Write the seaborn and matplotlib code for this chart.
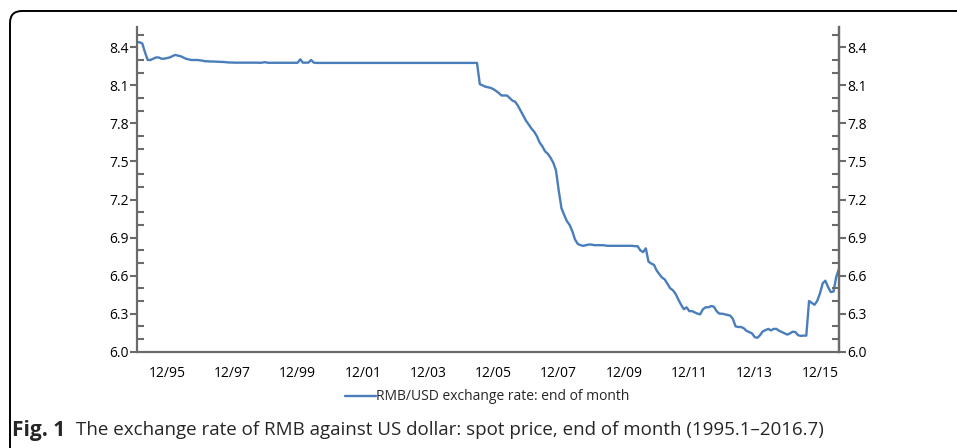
import matplotlib
matplotlib.use("Agg")
import matplotlib.pyplot as plt
from matplotlib.patches import FancyBboxPatch
from matplotlib.ticker import MultipleLocator
import seaborn as sns
import pandas as pd

# end-of-month RMB/USD spot rate, 1995.1 - 2016.7
rate_1995_1999 = [
    8.44, 8.44, 8.43, 8.36, 8.30, 8.30, 8.31, 8.32, 8.32, 8.31, 8.31, 8.315,
    8.32, 8.33, 8.34, 8.335, 8.33, 8.32, 8.31, 8.305, 8.30, 8.30, 8.30, 8.298,
    8.295, 8.29, 8.29, 8.288, 8.288, 8.287, 8.286, 8.285, 8.284, 8.282, 8.280, 8.280,
    8.279, 8.279, 8.279, 8.279, 8.279, 8.279, 8.279, 8.279, 8.279, 8.278, 8.279, 8.283,
    8.278, 8.278, 8.278, 8.278, 8.278, 8.278, 8.278, 8.278, 8.278, 8.278, 8.278, 8.278,
]
rate_2000_2004 = [
    8.305, 8.279, 8.279, 8.279, 8.30, 8.279, 8.277, 8.277, 8.277, 8.277, 8.277, 8.277,
] + [8.277] * 48
rate_2005_2009 = [
    8.277, 8.277, 8.277, 8.277, 8.277, 8.277, 8.11, 8.10, 8.09, 8.085, 8.08, 8.07,
    8.055, 8.04, 8.02, 8.02, 8.02, 8.00, 7.98, 7.97, 7.94, 7.90, 7.86, 7.82,
    7.79, 7.76, 7.735, 7.70, 7.65, 7.62, 7.58, 7.56, 7.53, 7.49, 7.43, 7.27,
    7.13, 7.08, 7.03, 7.00, 6.95, 6.885, 6.85, 6.84, 6.835, 6.84, 6.845, 6.845,
    6.84, 6.84, 6.84, 6.84, 6.838, 6.835, 6.835, 6.835, 6.835, 6.835, 6.835, 6.835,
]
rate_2010_2016 = [
    6.835, 6.835, 6.835, 6.832, 6.832, 6.80, 6.785, 6.815, 6.71, 6.695, 6.685, 6.64,
    6.61, 6.585, 6.57, 6.535, 6.50, 6.485, 6.455, 6.41, 6.37, 6.335, 6.35, 6.32,
    6.32, 6.31, 6.30, 6.295, 6.335, 6.35, 6.35, 6.36, 6.355, 6.32, 6.30, 6.30,
    6.295, 6.29, 6.285, 6.26, 6.20, 6.195, 6.195, 6.185, 6.165, 6.155, 6.145, 6.115,
    6.11, 6.13, 6.16, 6.17, 6.18, 6.168, 6.18, 6.18, 6.165, 6.155, 6.145, 6.135,
    6.145, 6.158, 6.155, 6.13, 6.125, 6.127, 6.127, 6.40, 6.385, 6.37, 6.40, 6.46,
    6.54, 6.56, 6.51, 6.47, 6.475, 6.59, 6.655,
]

rates = rate_1995_1999 + rate_2000_2004 + rate_2005_2009 + rate_2010_2016
months = pd.date_range("1995-01-31", periods=len(rates), freq="ME")

major_dates = pd.to_datetime([f"{y}-12-31" for y in range(1995, 2016, 2)])
minor_dates = pd.to_datetime([f"{y}-12-31" for y in range(1996, 2015, 2)])
major_labels = [d.strftime("%m/%y") for d in major_dates]

series_label = "RMB/USD exchange rate: end of month"
caption_bold = "Fig. 1"
caption_text = "The exchange rate of RMB against US dollar: spot price, end of month (1995.1\u20132016.7)"

df = pd.DataFrame({"month": months, "rate": rates})

sns.set_style("white")
plt.rcParams["font.family"] = ["Open Sans", "DejaVu Sans"]

axis_grey = "#6b6b6b"
line_blue = "#4a7ebb"

fig = plt.figure(figsize=(9.57, 4.48), dpi=100)
ax = fig.add_axes([0.1432, 0.2149, 0.7335, 0.7248])

sns.lineplot(data=df, x="month", y="rate", ax=ax, color=line_blue, lw=1.7,
             label=series_label, legend=False)

ax.set_xlim(months[0], months[-1])
ax.set_ylim(6.0, 8.56)
ax.set_xlabel("")
ax.set_ylabel("")

ax.set_xticks(major_dates, major_labels)
ax.set_xticks(minor_dates, minor=True)
ax.yaxis.set_major_locator(MultipleLocator(0.3))
ax.yaxis.set_minor_locator(MultipleLocator(0.1))
ax.yaxis.set_major_formatter(lambda v, p: f"{v:.1f}")

ax2 = ax.twinx()
ax2.set_ylim(ax.get_ylim())
ax2.yaxis.set_major_locator(MultipleLocator(0.3))
ax2.yaxis.set_minor_locator(MultipleLocator(0.1))
ax2.yaxis.set_major_formatter(lambda v, p: f"{v:.1f}")

for a in (ax, ax2):
    for side in ("left", "right", "bottom"):
        a.spines[side].set_color(axis_grey)
        a.spines[side].set_linewidth(1.6)
    a.spines["top"].set_visible(False)
ax2.spines["left"].set_visible(False)
ax2.spines["bottom"].set_visible(False)

ax.tick_params(axis="x", which="major", direction="out", length=8, width=1.5,
               color=axis_grey, labelsize=10, pad=2, labelcolor="black")
ax.tick_params(axis="x", which="minor", direction="out", length=5, width=1.5,
               color=axis_grey)
ax.tick_params(axis="y", which="major", direction="out", length=5, width=1.5,
               color=axis_grey, labelsize=10, pad=1, labelcolor="black")
ax.tick_params(axis="y", which="minor", direction="in", length=5, width=1.5,
               color=axis_grey, left=True)
ax2.tick_params(axis="y", which="major", direction="out", length=5, width=1.5,
                color=axis_grey, labelsize=10, pad=1, labelcolor="black")
ax2.tick_params(axis="y", which="minor", direction="in", length=5, width=1.5,
                color=axis_grey, right=True)

handles, labels = ax.get_legend_handles_labels()
fig.legend(handles, labels, loc="center", bbox_to_anchor=(0.509, 0.114),
           frameon=False, fontsize=10, handlelength=2.2, handletextpad=0.0)

fig.text(0.013, 0.04, caption_bold, fontsize=15, fontweight="bold",
         va="center", ha="left")
fig.text(0.079, 0.04, caption_text, fontsize=13.5, va="center", ha="left")

frame = FancyBboxPatch((10, -60), 1000, 497, boxstyle="round,pad=0,rounding_size=12",
                       transform=None, fill=False, lw=1.4, ec="black")
fig.add_artist(frame)

fig.savefig("out.png", dpi=100)
